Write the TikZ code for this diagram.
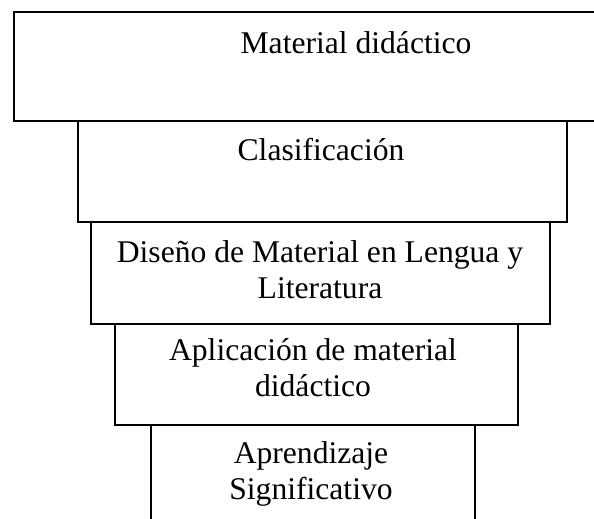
\documentclass[tikz,border=0pt]{standalone}
\usepackage{fontspec}
\setmainfont{Liberation Serif}
\usetikzlibrary{positioning}
\tikzset{
  tier/.style={draw, line width=2pt, inner sep=0pt, anchor=north west},
  tierlabel/.style={align=center, anchor=base, inner sep=0pt,
    font=\fontsize{31.6}{36}\selectfont},
}
\begin{document}
\begin{tikzpicture}[x=1pt,y=-1pt]
  \useasboundingbox (0,0) rectangle (594,519);
  \clip (0,0) rectangle (594,519);
  % Tiers of the funnel
  \node[tier, minimum width=686pt, minimum height=109pt] (material) at (13,11) {};
  \node[tier, minimum width=489pt, minimum height=100.5pt] (clasif) at (77,120) {};
  \node[tier, minimum width=459pt, minimum height=102.5pt] (diseno) at (90,220.5) {};
  \node[tier, minimum width=403pt, minimum height=101pt] (aplic) at (114,323) {};
  \node[tier, minimum width=324pt, minimum height=140pt] (aprend) at (150,424) {};
  % Labels (base = baseline of the last line)
  \node[tierlabel] (materialtxt) at (356,53) {Material didáctico};
  \node[tierlabel] (clasiftxt) at (321,160) {Clasificación};
  \node[tierlabel] (disenotxt) at (320,298) {Diseño de Material en Lengua y\\Literatura};
  \node[tierlabel] (aplictxt) at (313,396) {Aplicación de material\\didáctico};
  \node[tierlabel] (aprendtxt) at (311,499) {Aprendizaje\\Significativo};
\end{tikzpicture}
\end{document}
